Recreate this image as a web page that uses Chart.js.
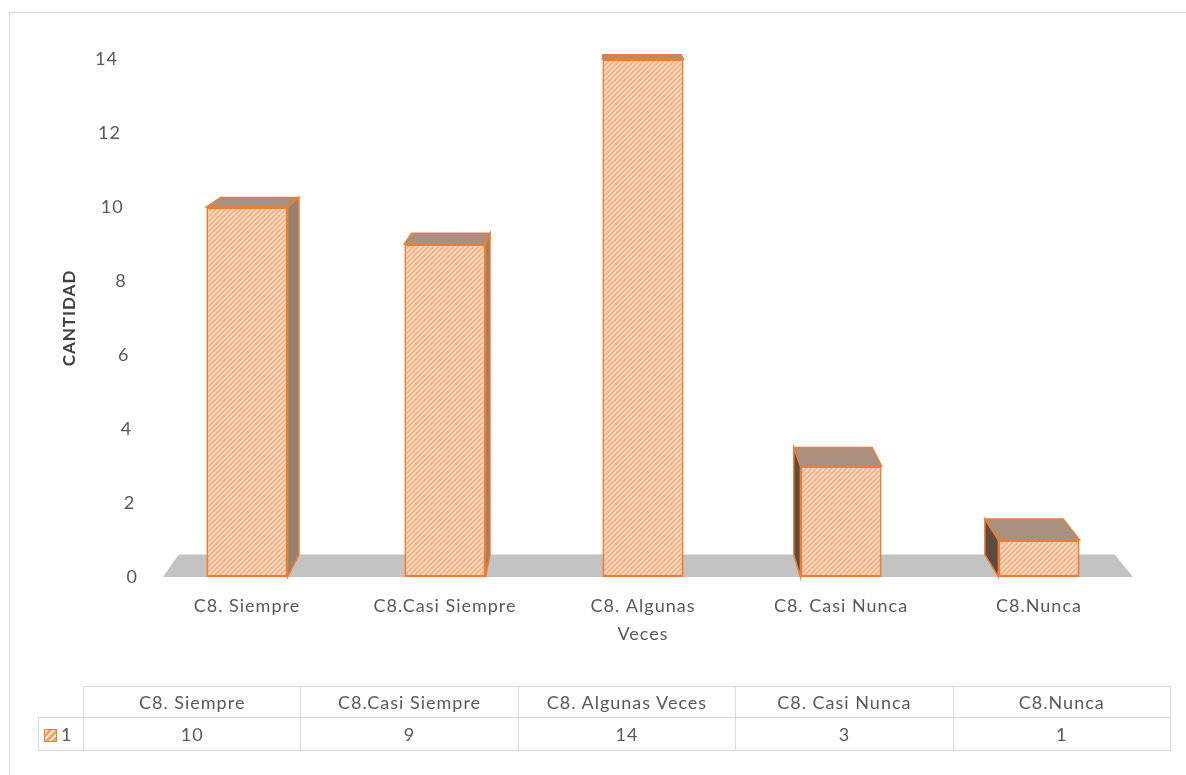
<!DOCTYPE html>
<html>
<head>
<meta charset="utf-8">
<script src="https://cdn.jsdelivr.net/npm/chart.js@4.4.1/dist/chart.umd.min.js"></script>
<style>
  html, body { margin: 0; padding: 0; background: #fff; overflow: hidden; }
  #marco { position: absolute; left: 9px; top: 12px; width: 1200px; height: 800px; border: 1px solid #d9d9d9; }
  #wrap { position: absolute; left: 0; top: 0; width: 1186px; height: 775px; }
  #tabla { position: absolute; left: 38px; top: 686px; border-collapse: collapse; table-layout: fixed;
    font-family: Lato, sans-serif; font-size: 18px; color: #595959; letter-spacing: 1px; }
  #tabla td { border: 1px solid #d9d9d9; text-align: center; padding: 0; }
  #tabla tr.cab td { height: 30px; }
  #tabla tr.val td { height: 32px; }
  #tabla td.vacio { border: none; }
  #tabla td.serie { text-align: left; padding-left: 5px; }
  .clave { display: inline-block; width: 11px; height: 11px; vertical-align: -1px; margin-right: 4px;
    border: 1px solid #ed7d31; background: repeating-linear-gradient(-45deg, #f4a46e 0 3px, #fde6d4 3px 5px); }
</style>
</head>
<body>
<div id="marco"></div>
<div id="wrap"><canvas id="grafico" width="1186" height="775"></canvas></div>
<table id="tabla"></table>
<script>
// datos
const categorias = ['C8. Siempre', 'C8.Casi Siempre', 'C8. Algunas Veces', 'C8. Casi Nunca', 'C8.Nunca']
const etiquetasEje = [['C8. Siempre'], ['C8.Casi Siempre'], ['C8. Algunas', 'Veces'], ['C8. Casi Nunca'], ['C8.Nunca']]
const valores = [10, 9, 14, 3, 1]
const serie = '1'
const ticksY = [0, 2, 4, 6, 8, 10, 12, 14]

const gris = '#595959'
Chart.defaults.font.family = 'Lato'

function rayado(fondo, linea, t) {
  const c = document.createElement('canvas')
  c.width = c.height = t
  const x = c.getContext('2d')
  x.fillStyle = fondo
  x.fillRect(0, 0, t, t)
  x.strokeStyle = linea
  x.lineWidth = t / 2.5
  x.beginPath()
  x.moveTo(-t, t); x.lineTo(t, -t)
  x.moveTo(0, t); x.lineTo(t, 0)
  x.moveTo(0, 2 * t); x.lineTo(2 * t, 0)
  x.stroke()
  return x.createPattern(c, 'repeat')
}

const ctx = document.getElementById('grafico').getContext('2d')
const frente = rayado('#fde3cf', '#f7b083', 5)

// perspectiva estilo 3D (cara trasera reducida hacia un punto de fuga)
const persp = {
  id: 'persp',
  beforeDraw(chart) {
    chart.ctx.letterSpacing = '1px'
  },
  beforeDatasetsDraw(chart) {
    const c = chart.ctx, ca = chart.chartArea
    const vx = ca.left + 0.468 * (ca.right - ca.left), vy = ca.top - 122, s = 0.965
    const P = (x, y) => [vx + (x - vx) * s, vy + (y - vy) * s]
    const poly = (pts, fill, stroke) => {
      c.beginPath()
      pts.forEach((p, i) => i ? c.lineTo(p[0], p[1]) : c.moveTo(p[0], p[1]))
      c.closePath()
      c.fillStyle = fill
      c.fill()
      if (stroke) { c.strokeStyle = stroke; c.lineWidth = 1.5; c.stroke() }
    }
    c.save()
    // suelo
    const fl = ca.left + 15, fr = ca.right - 5, fb = ca.bottom
    poly([[fl, fb], [fr, fb], P(fr, fb), P(fl, fb)], '#c3c3c3')
    // caras laterales y superiores
    chart.getDatasetMeta(0).data.forEach(b => {
      const l = b.x - b.width / 2, r = b.x + b.width / 2, t = b.y, bt = b.base
      if (r < vx) poly([[r, t], [r, bt], P(r, bt), P(r, t)], '#97806f', '#ed7d31')
      if (l > vx) poly([[l, t], [l, bt], P(l, bt), P(l, t)], '#5e4a3f', '#ed7d31')
      poly([[l, t], [r, t], P(r, t), P(l, t)], '#a8917f', '#ed7d31')
    })
    c.restore()
  },
  afterDraw(chart) {
    const c = chart.ctx, y = chart.scales.y, ca = chart.chartArea
    c.save()
    c.font = '18px Lato'
    c.fillStyle = gris
    c.textAlign = 'right'
    c.textBaseline = 'middle'
    ticksY.forEach(v => {
      const py = y.getPixelForValue(v)
      const px = 118 + (py - ca.top) / (ca.bottom - ca.top) * 20
      c.fillText(String(v), px, py)
    })
    c.restore()
  }
}

new Chart(ctx, {
  type: 'bar',
  data: {
    labels: etiquetasEje,
    datasets: [{
      label: serie,
      data: valores,
      backgroundColor: frente,
      borderColor: '#ed7d31',
      borderWidth: 2,
      borderSkipped: false,
      barPercentage: 0.41,
      categoryPercentage: 1
    }]
  },
  options: {
    responsive: false,
    animation: false,
    layout: { padding: { left: 48, top: 59, right: 48, bottom: 120 } },
    plugins: { legend: { display: false }, tooltip: { enabled: false } },
    scales: {
      x: {
        grid: { display: false, drawTicks: false },
        border: { display: false },
        ticks: { color: gris, font: { size: 18, lineHeight: 1.55 }, padding: 15, maxRotation: 0, autoSkip: false },
        afterFit: s => { s.height = 78 }
      },
      y: {
        min: 0,
        max: 14,
        grid: { display: false, drawTicks: false },
        border: { display: false },
        ticks: { display: false, stepSize: 2 },
        title: { display: true, text: 'CANTIDAD', color: '#404040', font: { size: 17, weight: 'bold' }, padding: { top: 11, bottom: 0 } },
        afterFit: s => { s.width = 100 }
      }
    }
  },
  plugins: [persp]
})

// tabla de datos
const tabla = document.getElementById('tabla')
const cols = '<col style="width:45px">' + categorias.map(() => '<col style="width:217.4px">').join('')
let cab = '<tr class="cab"><td class="vacio"></td>' + categorias.map(t => '<td>' + t + '</td>').join('') + '</tr>'
let fila = '<tr class="val"><td class="serie"><span class="clave"></span>' + serie + '</td>' + valores.map(v => '<td>' + v + '</td>').join('') + '</tr>'
tabla.innerHTML = cols + cab + fila
</script>
</body>
</html>
